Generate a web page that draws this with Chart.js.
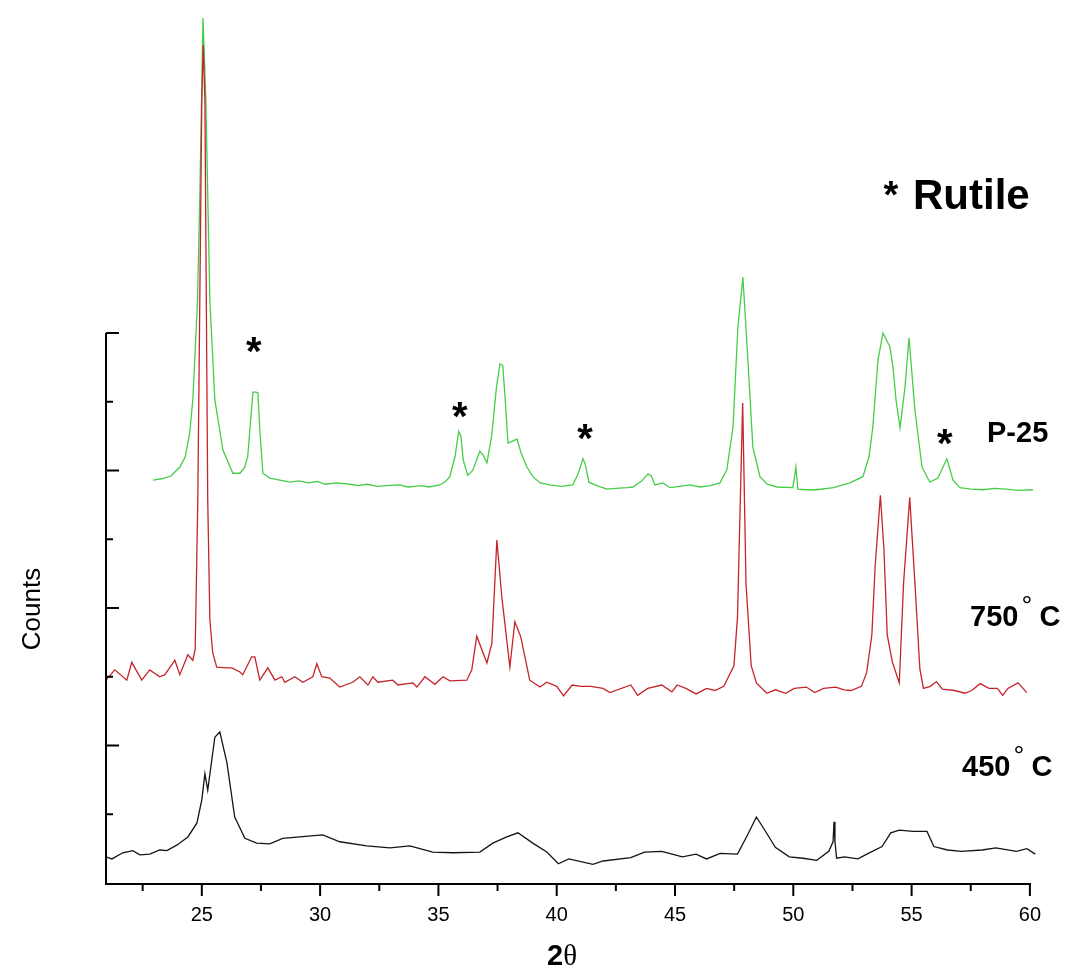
<!DOCTYPE html>
<html>
<head>
<meta charset="utf-8">
<title>XRD patterns</title>
<script src="https://cdn.jsdelivr.net/npm/chart.js@4/dist/chart.umd.min.js"></script>
<style>
  html, body { margin: 0; padding: 0; background: #fff; }
  canvas { display: block; }
</style>
</head>
<body>
<canvas id="xrd" width="1065" height="968"></canvas>
<script>
// 2θ (degrees) vs counts, the three patterns stacked with vertical offsets
const p25 = [
  [22.93,586],[23.3,588],[23.7,592],[24.07,605],[24.3,620],[24.49,655],[24.62,703],[24.82,848],
  [24.92,1008],[25.05,1258],[25.17,1139],[25.34,848],[25.55,703],[25.89,630],[26.31,596],[26.61,596],
  [26.8,604],[26.94,620],[27.08,680],[27.16,714],[27.28,714],[27.37,713],[27.45,660],[27.58,596],
  [27.87,589],[28.3,586],[28.72,583],[29.1,585],[29.5,582],[29.9,584],[30.2,580],[30.7,582],[31.26,580],
  [31.6,578],[32.0,580],[32.4,577],[32.8,578],[33.37,579],[33.7,576],[34.0,577],[34.3,578],[34.6,576],
  [35.06,579],[35.3,584],[35.48,591],[35.7,620],[35.86,657],
  [35.95,650],[36.05,615],[36.24,593],[36.45,600],[36.75,628],[36.9,622],[37.05,611],[37.25,650],
  [37.45,720],[37.6,755],[37.72,753],[37.83,700],[37.94,640],[38.1,642],[38.32,646],[38.5,625],
  [38.74,605],[38.99,591],[39.3,582],[39.71,579],[40.2,577],[40.68,579],[40.9,595],[41.11,617],
  [41.2,610],[41.36,583],[41.7,578],[42.12,573],[42.5,574],[42.97,575],[43.22,576],[43.6,585],
  [43.86,595],[44.0,592],[44.15,579],[44.49,582],[44.79,575],[45.2,577],[45.63,579],[46.05,576],
  [46.5,578],[46.9,582],[47.19,601],[47.45,663],[47.66,809],[47.87,881],[48.08,761],[48.29,634],
  [48.59,591],[48.9,580],[49.31,576],[49.98,575],[50.11,605],[50.19,573],[50.6,572],[50.99,572],
  [51.7,575],[52.39,582],[52.94,591],[53.2,620],[53.36,663],[53.58,761],[53.79,800],[54.08,780],
  [54.21,751],[54.35,700],[54.51,662],[54.72,721],[54.89,793],[55.14,688],[55.44,605],[55.77,583],
  [56.11,589],[56.49,617],[56.75,586],[57.04,575],[57.5,573],[58.01,572],[58.5,574],[59.0,573],
  [59.5,571],[60.13,572]
];

const t750 = [
  [20.95,295],[21.32,310],[21.83,295],[22.04,321],[22.46,295],[22.8,310],[23.22,300],[23.44,303],
  [23.86,324],[24.07,303],[24.41,332],[24.62,324],[24.72,340],[24.83,557],[25.0,1139],[25.06,1219],
  [25.13,1139],[25.25,557],[25.34,383],[25.46,335],[25.63,314],[26.06,313],[26.27,313],[26.61,307],
  [26.73,303],[27.11,329],[27.24,329],[27.45,295],[27.79,313],[28.09,295],[28.38,300],[28.51,292],
  [28.93,300],[29.27,292],[29.69,300],[29.86,319],[30.07,300],[30.41,298],[30.83,285],[31.38,292],
  [31.68,300],[32.02,288],[32.23,300],[32.44,292],[33.07,295],[33.29,288],[33.92,291],[34.09,285],
  [34.43,300],[34.85,289],[35.19,300],[35.48,294],[36.2,295],[36.41,310],[36.62,359],[37.05,320],
  [37.26,349],[37.47,499],[37.68,416],[38.02,314],[38.23,380],[38.48,358],[38.86,295],[39.29,285],
  [39.58,292],[40.0,286],[40.29,272],[40.65,288],[41.02,286],[41.44,286],[41.96,283],[42.25,277],
  [43.13,288],[43.42,273],[43.85,283],[44.44,288],[44.87,278],[45.09,288],[45.46,283],[45.89,275],
  [46.33,283],[46.69,280],[47.06,286],[47.49,316],[47.64,386],[47.86,698],[48.0,436],[48.22,316],
  [48.44,291],[48.88,276],[49.24,281],[49.68,276],[50.04,283],[50.55,285],[50.91,277],[51.28,283],
  [51.79,285],[52.15,281],[52.44,280],[52.88,286],[53.1,306],[53.32,361],[53.46,461],[53.68,564],
  [53.83,486],[53.97,361],[54.19,321],[54.48,291],[54.66,436],[54.92,561],[55.14,436],[55.35,311],
  [55.5,283],[55.79,286],[56.05,293],[56.3,282],[56.81,280],[57.25,276],[57.54,280],[57.9,290],
  [58.27,283],[58.63,283],[58.85,273],[59.07,283],[59.5,291],[59.87,277]
];

const t450 = [
  [20.95,38],[21.2,35],[21.66,44],[22.08,47],[22.38,41],[22.8,42],[23.22,48],[23.52,47],
  [23.94,55],[24.41,67],[24.79,87],[25.0,121],[25.13,159],[25.25,135],[25.55,212],[25.76,220],
  [26.06,175],[26.39,96],[26.82,65],[27.32,58],[27.87,57],[28.42,65],[29.14,67],[30.11,70],
  [30.83,60],[31.97,54],[32.95,51],[33.79,54],[34.76,45],[35.61,44],[36.75,45],[37.3,58],
  [37.89,67],[38.36,73],[38.99,58],[39.58,45],[40.07,28],[40.51,35],[41.53,27],[41.96,32],
  [43.13,37],[43.71,45],[44.44,46],[44.88,42],[45.31,38],[45.89,42],[46.33,35],[46.91,43],
  [47.64,42],[48.08,71],[48.44,96],[48.81,76],[49.24,52],[49.83,38],[50.41,36],[50.99,33],
  [51.5,46],[51.68,60],[51.72,89],[51.76,60],[51.83,36],[52.16,38],[52.73,35],[53.17,43],
  [53.75,53],[54.12,73],[54.48,77],[55.06,75],[55.65,75],[55.94,53],[56.52,48],[57.1,46],
  [57.98,48],[58.56,51],[59.43,46],[59.87,50],[60.23,42]
];

// axis ticks
const xTickLabels = [25, 30, 35, 40, 45, 50, 55, 60];
const xMinorTicks = [22.5, 27.5, 32.5, 37.5, 42.5, 47.5, 52.5, 57.5];
const yTicks = [0, 100, 200, 300, 400, 500, 600, 700, 800];

// rutile reflections in the P-25 pattern
const rutilePeaks = [27.2, 35.9, 41.2, 56.4];

const X_MIN = 20.95, X_MAX = 60.3, X_AXIS_END = 60;
const Y_MAX = 1280, Y_AXIS_TOP = 800;

// where the star above each rutile peak sits (counts)
const starHeights = [783, 688, 656, 649];

const FONT = '"Liberation Sans", Arial, Helvetica, sans-serif';

function toPoints(arr) { return arr.map(([x, y]) => ({ x, y })); }

function drawStar(ctx, cx, cy, size) {
  ctx.font = 'bold ' + size + 'px ' + FONT;
  const m = ctx.measureText('*');
  const a = m.actualBoundingBoxAscent, d = m.actualBoundingBoxDescent;
  ctx.textAlign = 'center';
  ctx.textBaseline = 'alphabetic';
  ctx.fillText('*', cx, cy + (a - d) / 2);
}

function drawTempLabel(ctx, left, baseline, num) {
  ctx.textAlign = 'left';
  ctx.textBaseline = 'alphabetic';
  ctx.font = 'bold 29px ' + FONT;
  ctx.fillText(num, left, baseline);
  const w = ctx.measureText(num).width;
  ctx.font = '27px ' + FONT;
  ctx.fillText('\u00B0', left + w + 3, baseline - 11);
  ctx.font = 'bold 29px ' + FONT;
  ctx.fillText('C', left + w + 21, baseline);
}

const axesAndLabels = {
  id: 'axesAndLabels',
  afterDatasetsDraw(chart) {
    const { ctx } = chart;
    const xs = chart.scales.x, ys = chart.scales.y;
    const px = v => xs.getPixelForValue(v);
    const py = v => ys.getPixelForValue(v);
    const x0 = px(X_MIN), x1 = px(X_AXIS_END);
    const y0 = py(0), yTop = py(Y_AXIS_TOP);

    ctx.save();
    ctx.strokeStyle = '#000';
    ctx.fillStyle = '#000';
    ctx.lineWidth = 2;
    ctx.lineCap = 'butt';

    // axis lines
    ctx.beginPath();
    ctx.moveTo(x0, yTop);
    ctx.lineTo(x0, y0 + 1);
    ctx.lineTo(x1 + 1, y0 + 1);
    ctx.stroke();

    // x ticks
    ctx.beginPath();
    xTickLabels.forEach(v => { ctx.moveTo(px(v), y0); ctx.lineTo(px(v), y0 + 13); });
    xMinorTicks.forEach(v => { ctx.moveTo(px(v), y0); ctx.lineTo(px(v), y0 + 8); });
    // y ticks (inside the axis)
    yTicks.forEach((v, i) => {
      if (v === 0) return;
      const len = (i % 2 === 0) ? 13 : 7;
      ctx.moveTo(x0, py(v)); ctx.lineTo(x0 + len, py(v));
    });
    ctx.stroke();

    // x tick labels
    ctx.font = '20px ' + FONT;
    ctx.textAlign = 'center';
    ctx.textBaseline = 'alphabetic';
    xTickLabels.forEach(v => ctx.fillText(String(v), px(v), y0 + 38));

    // x axis title: 2θ
    ctx.textAlign = 'left';
    ctx.font = 'bold 29px ' + FONT;
    const w2 = ctx.measureText('2').width;
    const titleX = 547, titleBase = 965;
    ctx.fillText('2', titleX, titleBase);
    ctx.font = '29px "Liberation Serif", "Times New Roman", serif';
    ctx.fillText('\u03B8', titleX + w2, titleBase);

    // y axis title
    ctx.save();
    ctx.translate(40, 609);
    ctx.rotate(-Math.PI / 2);
    ctx.textAlign = 'center';
    ctx.font = '26px ' + FONT;
    ctx.fillText('Counts', 0, 0);
    ctx.restore();

    // rutile stars
    rutilePeaks.forEach((v, i) => drawStar(ctx, px(v), py(starHeights[i]), 40));

    // legend note
    drawStar(ctx, 891, 188, 38);
    ctx.textAlign = 'left';
    ctx.font = 'bold 42px ' + FONT;
    ctx.fillText('Rutile', 913, 209);

    // series names
    ctx.font = 'bold 29px ' + FONT;
    ctx.fillText('P-25', 987, 442);
    drawTempLabel(ctx, 970, 626, '750');
    drawTempLabel(ctx, 962, 776, '450');

    ctx.restore();
  }
};

new Chart(document.getElementById('xrd'), {
  type: 'line',
  data: {
    datasets: [
      { label: '750° C', data: toPoints(t750), borderColor: 'rgb(196, 36, 44)', borderWidth: 1.3 },
      { label: '450° C', data: toPoints(t450), borderColor: 'rgb(20, 20, 20)', borderWidth: 1.3 },
      { label: 'P-25', data: toPoints(p25), borderColor: 'rgb(70, 205, 70)', borderWidth: 1.3 }
    ]
  },
  options: {
    responsive: false,
    animation: false,
    devicePixelRatio: 1,
    parsing: true,
    layout: { padding: { left: 106, right: 28, top: 3, bottom: 85 } },
    elements: {
      point: { radius: 0, hoverRadius: 0 },
      line: { tension: 0, fill: false }
    },
    plugins: {
      legend: { display: false },
      tooltip: { enabled: false },
      title: { display: false }
    },
    scales: {
      x: { type: 'linear', min: X_MIN, max: X_MAX, display: false },
      y: { type: 'linear', min: 0, max: Y_MAX, display: false }
    }
  },
  plugins: [axesAndLabels]
});
</script>
</body>
</html>
